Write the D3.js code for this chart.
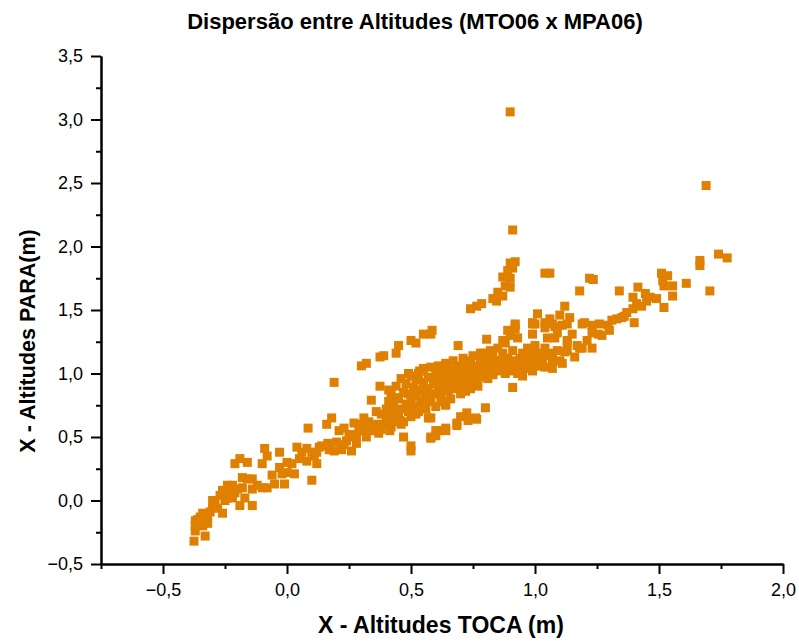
<!DOCTYPE html>
<html>
<head>
<meta charset="utf-8">
<title>Dispersão entre Altitudes</title>
<script src="https://d3js.org/d3.v7.min.js"></script>
<style>
    body { margin: 0; background: #fff; }
    text { font-family: "Liberation Sans", Arial, sans-serif; fill: #000; }
</style>
</head>
<body>
<div id="chart"></div>
<script>
// chart text
var title = "Dispersão entre Altitudes (MTO06 x MPA06)";
var xTitle = "X - Altitudes TOCA (m)";
var yTitle = "X - Altitudes PARA(m)";

// tick values
var xMajor = [-0.5, 0, 0.5, 1.0, 1.5, 2.0];
var xMinor = [-0.75, -0.25, 0.25, 0.75, 1.25, 1.75];
var yMajor = [-0.5, 0, 0.5, 1.0, 1.5, 2.0, 2.5, 3.0, 3.5];
var yMinor = [-0.25, 0.25, 0.75, 1.25, 1.75, 2.25, 2.75, 3.25];

// points [TOCA, PARA]
var lowerLeft = [
    [-0.375,-0.32],[-0.37,-0.16],[-0.37,-0.2],[-0.37,-0.24],[-0.33,-0.28],[-0.35,-0.13],[-0.32,-0.13],
    [-0.32,-0.18],[-0.29,-0.02],[-0.28,-0.06],[-0.26,-0.1],[-0.26,0.08],[-0.24,0.02],[-0.22,0.12],
    [-0.21,0.06],[-0.2,0.09],[-0.19,-0.04],[-0.21,0.29],[-0.19,0.33],[-0.16,0.3],[-0.18,0.18],
    [-0.14,0.17],[-0.17,0.02],[-0.14,0.09],[-0.14,-0.04],[-0.1,0.29],[-0.09,0.41],[-0.08,0.35],
    [-0.1,0.1],[-0.08,0.1],[-0.05,0.13],[-0.03,0.38],[-0.03,0.26],[-0.02,0.21],[-0.01,0.13],
    [0.03,0.21],[0.02,0.29],[0.04,0.42],[0.06,0.38],[0.085,0.57],[0.1,0.16],[0.1,0.38],[0.12,0.29],
    [-0.36,-0.15],[-0.34,-0.1],[-0.3,-0.06],[-0.3,0.0],[-0.27,0.04],[-0.25,0.0],[-0.23,0.06],
    [-0.24,0.12],[-0.22,0.02],[-0.18,0.1],[-0.16,0.17],[-0.12,0.12],[-0.06,0.2],[0.0,0.3],
    [0.0,0.22],[0.05,0.33],[0.08,0.31],[-0.34,-0.2],[-0.31,-0.09]
];

var lowerBand = [
    [0.08,0.41],[0.12,0.38],[0.16,0.6],[0.18,0.65],[0.19,0.93],[0.165,0.45],[0.21,0.55],[0.23,0.57],
    [0.24,0.47],[0.27,0.61],[0.26,0.39],[0.31,0.65],[0.32,0.5],[0.34,0.79],[0.34,0.57],[0.375,0.9],
    [0.38,0.68],[0.37,0.53],[0.41,0.87],[0.415,0.55],[0.435,0.71],[0.44,0.81],[0.455,0.63],[0.47,0.5],
    [0.5,0.43],[0.5,0.39],[0.48,0.76],[0.49,1.0],[0.51,0.89],[0.52,0.68],[0.535,1.02],[0.545,0.87],
    [0.556,0.79],[0.57,0.65],[0.58,0.5],[0.6,0.55],[0.62,1.0],[0.62,0.81],[0.64,1.02],[0.64,0.76],
    [0.64,0.57],[0.6,0.94],[0.14,0.43],[0.2,0.46],[0.22,0.4],[0.25,0.52],[0.28,0.45],[0.29,0.55],
    [0.3,0.6],[0.33,0.62],[0.35,0.55],[0.36,0.7],[0.39,0.6],[0.4,0.65],[0.42,0.58],[0.43,0.62],
    [0.45,0.68],[0.46,0.6],[0.11,0.35],[0.13,0.42],[0.17,0.4],[0.19,0.39],[0.23,0.44],[0.26,0.5],
    [0.28,0.52],[0.31,0.55],[0.36,0.6],[0.38,0.56]
];

var core = [
    [0.55,1.02],[0.55,0.89],[0.565,0.79],[0.61,0.55],[0.64,0.55],[0.64,0.75],[0.62,0.97],[0.645,1.02],
    [0.645,0.89],[0.685,0.61],[0.725,0.69],[0.76,0.65],[0.7,1.05],[0.7,0.84],[0.74,1.1],[0.74,0.92],
    [0.78,1.16],[0.785,0.98],[0.8,0.73],[0.82,1.18],[0.83,1.0],[0.87,1.26],[0.87,1.1],[0.91,0.89],
    [0.91,1.1],[0.89,1.34],[0.92,1.39],[0.93,1.28],[0.95,0.98],[0.99,1.39],[0.99,1.31],[0.99,1.18],
    [1.01,1.08],[1.04,1.36],[1.05,1.28],[1.07,1.39],[1.07,1.16],[1.07,1.04],[1.1,1.1],[1.13,1.24],
    [1.13,1.39],[0.58,0.49],[0.6,0.51],[0.685,0.59],[0.7,0.66],[0.73,0.63],[0.765,0.64],[0.58,0.65],
    [0.40,0.72],[0.41,0.78],[0.42,0.68],[0.42,0.84],[0.43,0.75],[0.44,0.66],[0.44,0.9],[0.45,0.8],
    [0.46,0.72],[0.46,0.96],[0.47,0.85],[0.47,0.62],[0.48,0.92],[0.49,0.7],[0.49,0.84],[0.5,0.98],
    [0.5,0.78],[0.5,0.66],[0.51,0.74],[0.52,0.95],[0.52,0.82],[0.53,0.7],[0.53,1.0],[0.54,0.86],
    [0.54,0.77],[0.55,0.93],[0.55,1.04],[0.56,0.82],[0.56,0.72],[0.57,0.97],[0.57,0.88],[0.58,0.78],
    [0.58,1.05],[0.59,0.92],[0.59,0.84],[0.6,0.99],[0.6,0.74],[0.61,0.9],[0.61,1.06],[0.62,0.84],
    [0.62,0.95],[0.63,1.01],[0.63,0.78],[0.64,0.92],[0.64,1.08],[0.65,0.86],[0.65,0.98],[0.66,1.03],
    [0.66,0.8],[0.67,0.94],[0.67,1.1],[0.68,0.88],[0.68,1.0],[0.69,0.95],[0.69,1.06],[0.7,0.9],
    [0.7,1.02],[0.71,0.97],[0.71,1.12],[0.72,0.86],[0.72,1.05],[0.73,1.0],[0.73,0.93],[0.74,1.08],
    [0.74,0.88],[0.75,1.02],[0.75,1.14],[0.76,0.95],[0.76,1.06],[0.77,1.0],[0.77,0.9],[0.78,1.1],
    [0.78,1.04],[0.79,0.97],[0.79,1.16],[0.8,1.02],[0.8,1.08],[0.81,0.96],[0.81,1.12],[0.82,1.05],
    [0.83,0.99],[0.83,1.15],[0.84,1.08],[0.85,1.02],[0.85,1.2],[0.86,1.1],[0.87,1.04],[0.87,1.16],
    [0.88,1.0],[0.88,1.24],[0.89,1.12],[0.9,1.06],[0.9,1.3],[0.91,1.02],[0.91,1.18],[0.92,1.09],
    [0.92,1.35],[0.93,1.0],[0.94,1.12],[0.94,1.06],[0.95,1.16],[0.96,1.04],[0.96,1.1],[0.97,1.2],
    [0.98,1.08],[0.98,1.14],[0.99,1.02],[1.0,1.12],[1.0,1.22],[1.01,1.06],[1.02,1.16],[1.03,1.1],
    [1.04,1.2],[1.05,1.14]
];

var upperBranch = [
    [0.3,1.06],[0.32,1.08],[0.375,1.13],[0.39,1.14],[0.44,1.16],[0.45,1.22],[0.5,1.26],[0.52,1.24],
    [0.55,1.31],[0.58,1.31],[0.585,1.34],[0.69,1.22],[0.805,1.27],[0.74,1.51],[0.765,1.53],[0.785,1.55],
    [0.83,1.59],[0.845,1.57],[0.85,1.64],[0.87,1.61],[0.88,1.69],[0.9,1.68],[0.87,1.76],[0.9,1.75],
    [0.89,1.81],[0.91,1.83],[0.9,1.87],[0.92,1.88],[0.91,2.13]
];

var rightBranch = [
    [1.06,1.79],[1.04,1.79],[1.18,1.65],[1.22,1.75],[1.235,1.74],[1.12,1.53],[1.1,1.46],[1.14,1.44],
    [1.11,1.38],[1.09,1.32],[1.15,1.31],[1.08,1.28],[1.13,1.26],[1.13,1.18],[1.09,1.18],[1.07,1.1],
    [1.11,1.08],[1.17,1.22],[1.23,1.2],[1.19,1.39],[1.23,1.38],[1.26,1.39],[1.23,1.32],[1.255,1.31],
    [1.295,1.38],[1.3,1.34],[1.33,1.43],[1.34,1.65],[1.35,1.44],[1.37,1.48],[1.395,1.51],[1.4,1.4],
    [1.395,1.6],[1.415,1.68],[1.41,1.55],[1.43,1.53],[1.445,1.63],[1.45,1.57],[1.465,1.6],[1.49,1.59],
    [1.52,1.52],[1.51,1.79],[1.535,1.77],[1.515,1.73],[1.52,1.69],[1.555,1.69],[1.555,1.61],[1.61,1.71],
    [1.665,1.89],[1.665,1.85],[1.705,1.65],[1.74,1.94],[1.775,1.91],[1.01,1.47],[0.99,1.4],[1.06,1.43],
    [0.92,1.38],[1.0,1.39],[1.04,1.4],[1.08,1.37],[1.2,1.4],[1.31,1.42],[1.36,1.45],[1.18,1.2],
    [1.02,1.06],[1.04,1.05],[1.12,1.17],[1.19,1.2],[1.16,1.13],[1.21,1.26],[1.27,1.3]
];

var outliers = [[0.9,3.06],[1.69,2.48]];

var points = lowerLeft.concat(lowerBand, core, upperBranch, rightBranch, outliers);

var width = 799, height = 641;
var markerSize = 9;
var color = "#E08000";

var svg = d3.select("#chart").append("svg")
    .attr("width", width)
    .attr("height", height);

var x = d3.scaleLinear().domain([-0.75, 2.0]).range([101, 783]);
var y = d3.scaleLinear().domain([-0.5, 3.5]).range([564, 56]);

var fmt = function(d) { return d3.format(".1f")(d).replace(".", ","); };

// markers
svg.append("g").selectAll("rect")
    .data(points)
    .enter()
    .append("rect")
    .attr("x", function(d) { return x(d[0]) - markerSize / 2; })
    .attr("y", function(d) { return y(d[1]) - markerSize / 2; })
    .attr("width", markerSize)
    .attr("height", markerSize)
    .style("fill", color);

// x axis
var xAxisG = svg.append("g").attr("transform", "translate(0," + y(-0.5) + ")");
xAxisG.append("g")
    .call(d3.axisBottom(x).tickValues(xMinor).tickSize(5).tickSizeOuter(0).tickFormat(""));
xAxisG.append("g")
    .call(d3.axisBottom(x).tickValues(xMajor).tickSize(10).tickSizeOuter(0).tickFormat(fmt).tickPadding(9));

// y axis
var yAxisG = svg.append("g").attr("transform", "translate(" + x(-0.75) + ",0)");
yAxisG.append("g")
    .call(d3.axisLeft(y).tickValues(yMinor).tickSize(5).tickSizeOuter(0).tickFormat(""));
yAxisG.append("g")
    .call(d3.axisLeft(y).tickValues(yMajor).tickSize(10).tickSizeOuter(0).tickFormat(fmt).tickPadding(8));

svg.selectAll(".domain").attr("stroke", "#000").attr("stroke-width", 2);
svg.selectAll(".tick line").attr("stroke", "#000").attr("stroke-width", 2);
svg.selectAll(".tick text")
    .style("font-family", "'Liberation Sans', Arial, sans-serif")
    .style("font-size", "18px")
    .attr("fill", "#000");

// titles
svg.append("text")
    .attr("x", 415)
    .attr("y", 29)
    .attr("text-anchor", "middle")
    .style("font-size", "22px")
    .style("font-weight", "bold")
    .text(title);

svg.append("text")
    .attr("x", 441)
    .attr("y", 633)
    .attr("text-anchor", "middle")
    .style("font-size", "23px")
    .style("font-weight", "bold")
    .text(xTitle);

svg.append("text")
    .attr("transform", "translate(35,341) rotate(-90)")
    .attr("text-anchor", "middle")
    .style("font-size", "21.5px")
    .style("font-weight", "bold")
    .text(yTitle);
</script>
</body>
</html>
